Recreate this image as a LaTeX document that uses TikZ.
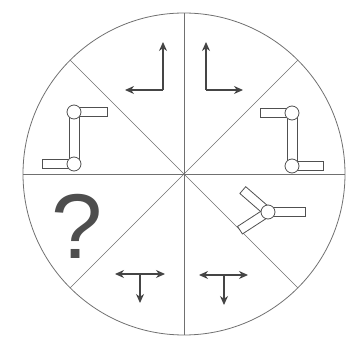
\documentclass[tikz,border=0pt]{standalone}
\usepackage{fontspec}
\newfontfamily\quesfont{Liberation Sans}
\usetikzlibrary{arrows.meta}
\definecolor{RimLine}{HTML}{707070}
\definecolor{ArrowInk}{HTML}{454545}
\definecolor{LinkInk}{HTML}{505050}
\definecolor{QuesInk}{HTML}{4E4E4E}

\begin{document}
\begin{tikzpicture}[x=1pt, y=-1pt,
    mv/.style={ArrowInk, line width=1.4pt, -{Stealth[length=9pt,width=8pt]}},
    mvboth/.style={ArrowInk, line width=1.4pt, {Stealth[length=9pt,width=8pt]}-{Stealth[length=9pt,width=8pt]}},
    link/.style={draw=LinkInk, fill=white, line width=0.8pt, inner sep=0pt, minimum height=9pt},
    joint/.style={circle, draw=LinkInk, fill=white, line width=0.8pt, inner sep=0pt, minimum size=14pt}]
		\useasboundingbox (0,0) rectangle (357,350);
		
		% Disc and spokes
		\coordinate (hub) at (184,174);
		\draw[RimLine, line width=0.8pt] (hub) circle[radius=161];
		\foreach \a in {0,45,90,135}
			\draw[RimLine, line width=0.7pt] (hub) -- ++(\a:161) (hub) -- ++(\a+180:161);
		
		% Top: corner arrows
		\coordinate (tl) at (163,90);
		\coordinate (tl-n) at (163,42);
		\coordinate (tl-w) at (125,90);
		\draw[mv] (tl) -- (tl-n);
		\draw[mv] (tl) -- (tl-w);
		\coordinate (tr) at (206,90);
		\coordinate (tr-n) at (206,42);
		\coordinate (tr-e) at (243,90);
		\draw[mv] (tr) -- (tr-n);
		\draw[mv] (tr) -- (tr-e);
		
		% Left arm
		\node[link, minimum width=33pt, anchor=west] (lu-bar) at (74,112) {};
		\node[link, minimum width=31pt, anchor=east] (ll-bar) at (74,164) {};
		\node[link, minimum width=10pt, minimum height=52pt] (l-mid) at (74,138) {};
		\node[joint] (lu) at (74,112) {};
		\node[joint] (ll) at (74,164) {};
		
		% Right arm
		\node[link, minimum width=31pt, anchor=east] (ru-bar) at (292,113) {};
		\node[link, minimum width=31pt, anchor=west] (rl-bar) at (292,166) {};
		\node[link, minimum width=10pt, minimum height=53pt] (r-mid) at (292,139.5) {};
		\node[joint] (ru) at (292,113) {};
		\node[joint] (rl) at (292,166) {};
		
		% Three-prong
		\node[link, minimum width=37pt, anchor=west] (tp-e) at (268,212) {};
		\node[link, minimum width=33pt, anchor=west, rotate=139] (tp-nw) at (268,212) {};
		\node[link, minimum width=33pt, anchor=west, rotate=-147] (tp-sw) at (268,212) {};
		\node[joint] (tp) at (268,212) {};
		
		% Question
		\node[text=QuesInk, font=\quesfont\fontsize{92}{92}\selectfont] (ques) at (77,226) {?};
		
		% Bottom: split arrows
		\coordinate (bl-w) at (115,274);
		\coordinate (bl-e) at (165,274);
		\coordinate (bl-m) at (140,274);
		\coordinate (bl-s) at (140,303);
		\draw[mvboth] (bl-w) -- (bl-e);
		\draw[mv] (bl-m) -- (bl-s);
		\coordinate (br-w) at (199,275);
		\coordinate (br-e) at (248,275);
		\coordinate (br-m) at (224,275);
		\coordinate (br-s) at (224,305);
		\draw[mvboth] (br-w) -- (br-e);
		\draw[mv] (br-m) -- (br-s);
	\end{tikzpicture}
\end{document}
